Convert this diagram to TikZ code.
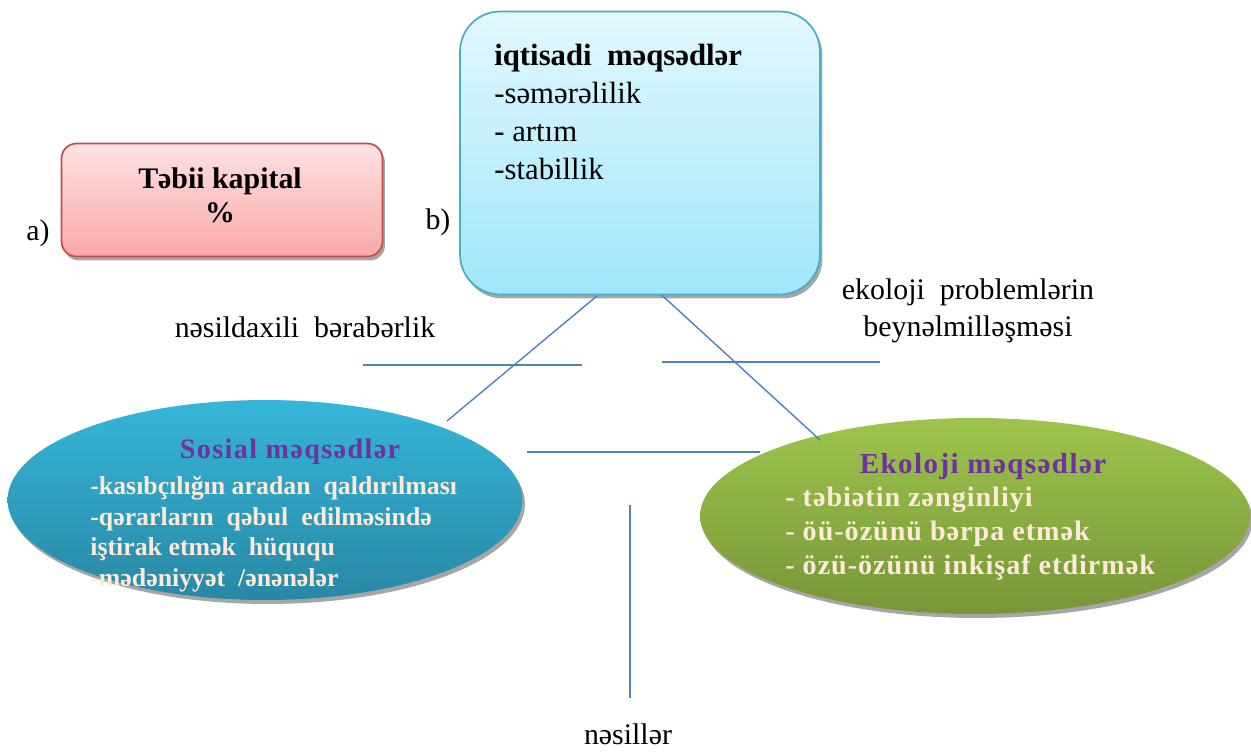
\documentclass[tikz,border=0pt]{standalone}
\usepackage{fontspec}
\setmainfont{Liberation Serif}
\usetikzlibrary{shapes.geometric, shadows, calc}

\definecolor{linkblue}{RGB}{79, 129, 189}
\definecolor{goalpurple}{RGB}{112, 48, 160}
\definecolor{goalcream}{RGB}{253, 234, 218}

\tikzset{
    link/.style = {linkblue, line width = 0.8pt},
    boxshadow/.style = {drop shadow = {shadow xshift = 0.05cm, shadow yshift = -0.08cm, fill = black, opacity = 0.35}},
    plain/.style = {font = \fontsize{17}{21}\selectfont, inner sep = 0pt}
}

\begin{document}
\begin{tikzpicture}[x = 0.02cm, y = -0.02cm]
    \useasboundingbox (0, 0) rectangle (1251, 753);

% The two boxes at the top.
    \node [boxshadow, draw = {rgb,255:red,192;green,80;blue,77}, line width = 1pt,
        rounded corners = 0.3cm, top color = {rgb,255:red,253;green,226;blue,226},
        bottom color = {rgb,255:red,250;green,168;blue,168},
        minimum width = 6.42cm, minimum height = 2.26cm] (kapital) at (222, 200) {};
    \node [plain, font = \fontsize{17}{19.5}\selectfont\bfseries, align = center]
        (kapitaltext) at (220, 195) {Təbii kapital\\\%};

    \node [boxshadow, draw = {rgb,255:red,75;green,172;blue,198}, line width = 1pt,
        rounded corners = 0.8cm, top color = {rgb,255:red,226;green,248;blue,254},
        bottom color = {rgb,255:red,160;green,230;blue,250},
        minimum width = 7.2cm, minimum height = 5.66cm] (iqt) at (640, 153) {};
    \node [plain, font = \fontsize{17.5}{21.5}\selectfont, align = left, anchor = north west]
        (iqttext) at (494, 44) {\textbf{iqtisadi\ \ məqsədlər}\\-səmərəlilik\\- artım\\-stabillik};

    \node [plain] (a) at (38, 233) {a)};
    \node [plain] (b) at (438, 222) {b)};

% The two ellipses at the bottom.
    \node [boxshadow, ellipse, top color = {rgb,255:red,53;green,182;blue,216},
        bottom color = {rgb,255:red,40;green,136;blue,166},
        minimum width = 10.3cm, minimum height = 4cm] (sosial) at (265, 500) {};
    \node [font = \fontsize{16}{18}\selectfont\bfseries\addfontfeature{LetterSpace = 5}, goalpurple, inner sep = 0pt]
        (sosialtitle) at (290, 452) {Sosial məqsədlər};
    \node [font = \fontsize{14.7}{17.4}\selectfont\bfseries, goalcream, align = left,
        anchor = north west, inner sep = 0pt] (sosialtext) at (90, 476)
        {-kasıbçılığın aradan\ \ qaldırılması\\-qərarların\ \ qəbul\ \ edilməsində\\iştirak etmək\ \ hüququ\\-mədəniyyət\ \ /ənənələr};

    \node [boxshadow, ellipse, top color = {rgb,255:red,157;green,197;blue,76},
        bottom color = {rgb,255:red,118;green,150;blue,56},
        minimum width = 11cm, minimum height = 3.92cm] (ekoloji) at (975, 516) {};
    \node [font = \fontsize{16.5}{18}\selectfont\bfseries\addfontfeature{LetterSpace = 5}, goalpurple, inner sep = 0pt]
        (ekolojititle) at (983, 467) {Ekoloji məqsədlər};
    \node [font = \fontsize{16}{19.2}\selectfont\bfseries\addfontfeature{LetterSpace = 3.5}, goalcream, align = left,
        anchor = north west, inner sep = 0pt] (ekolojitext) at (785, 487)
        {- təbiətin zənginliyi\\- öü-özünü bərpa etmək\\- özü-özünü inkişaf etdirmək};

% Labels of the links.
    \node [plain] (nesildaxili) at (305, 327) {nəsildaxili\ \ bərabərlik};
    \node [plain, align = center, font = \fontsize{17}{21}\selectfont] (beynelmilel) at (968, 311)
        {ekoloji\ \ problemlərin\\beynəlmilləşməsi};
    \node [plain] (nesiller) at (628, 734) {nəsillər};

% Free ends of the links.
    \coordinate (h1a) at (363, 365);
    \coordinate (h1b) at (582, 365);
    \coordinate (h2a) at (662, 362);
    \coordinate (h2b) at (880, 362);
    \coordinate (h3a) at (527, 452);
    \coordinate (h3b) at (760, 452);
    \coordinate (v1a) at (630, 505);
    \coordinate (v1b) at (630, 698);
    \coordinate (d1) at (447, 421);
    \coordinate (d2) at (820, 440);

    \draw [link] ($(iqt.south west)!0.383!(iqt.south east)$) -- (d1);
    \draw [link] ($(iqt.south west)!0.561!(iqt.south east)$) -- (d2);
    \draw [link] (h1a) -- (h1b);
    \draw [link] (h2a) -- (h2b);
    \draw [link] (h3a) -- (h3b);
    \draw [link] (v1a) -- (v1b);
\end{tikzpicture}
\end{document}
